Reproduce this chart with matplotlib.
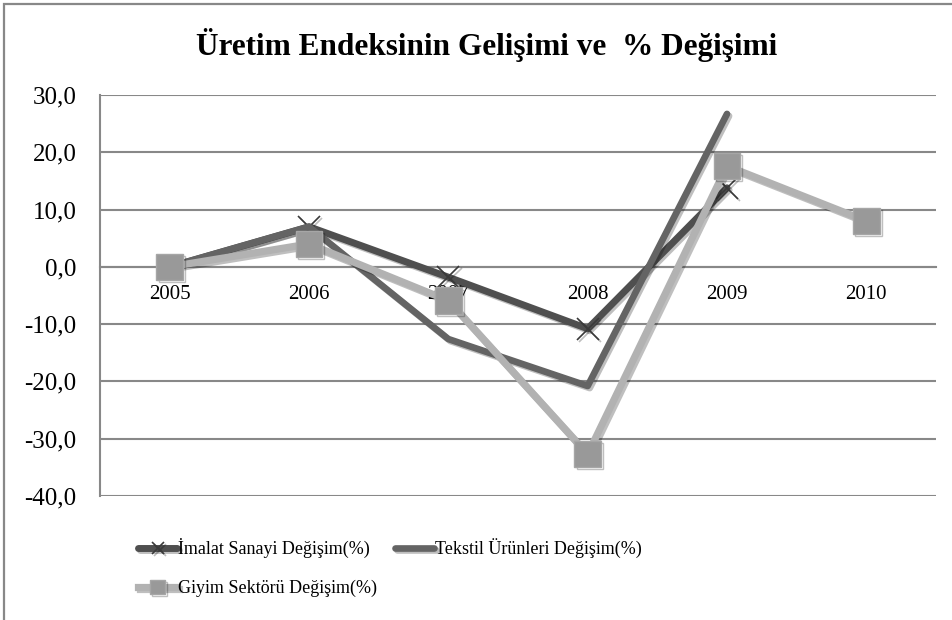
import numpy as np
import matplotlib
matplotlib.use("Agg")
import matplotlib.pyplot as plt
import matplotlib.patheffects as pe
from matplotlib.ticker import FuncFormatter
from matplotlib.patches import Rectangle

# data
years = ["2005", "2006", "2007", "2008", "2009", "2010"]
imalat = [0.0, 7.0, -1.8, -10.8, 13.8, np.nan]
tekstil = [0.0, 7.0, -12.6, -20.8, 26.7, np.nan]
giyim = [0.0, 4.0, -5.9, -32.7, 17.6, 8.0]
labels = ["İmalat Sanayi Değişim(%)", "Tekstil Ürünleri Değişim(%)", "Giyim Sektörü Değişim(%)"]
title = "Üretim Endeksinin Gelişimi ve  % Değişimi"

plt.rcParams["font.family"] = ["Liberation Serif", "DejaVu Serif"]

W, H = 953, 620
fig = plt.figure(figsize=(W/100, H/100), dpi=100)
fig.patch.set_facecolor("white")

# outer chart frame (right/bottom edges cropped in the original)
fig.patches.append(Rectangle((4/W, -0.2), 1.2, 1.2 - 4/H, transform=fig.transFigure,
                             fill=False, edgecolor="#888888", linewidth=1.6, zorder=0))

ax = fig.add_axes([100/W, 1 - 496/H, 836/W, 401/H])
x = np.arange(len(years))

shadow = [pe.SimpleLineShadow(offset=(1.5, -1.5), alpha=0.25), pe.Normal()]

l1, = ax.plot(x, imalat, color="#4f4f4f", lw=5.0, marker="x", markersize=16,
              markeredgewidth=1.2, markeredgecolor="#3a3a3a", solid_capstyle="round",
              solid_joinstyle="round", path_effects=shadow, zorder=3, label=labels[0])
l2, = ax.plot(x, tekstil, color="#646464", lw=4.8, solid_capstyle="round",
              solid_joinstyle="round", path_effects=shadow, zorder=4, label=labels[1])
l3, = ax.plot(x, giyim, color="#b2b2b2", lw=5.2, marker="s", markersize=19,
              markerfacecolor="#999999", markeredgecolor="#a6a6a6", markeredgewidth=1,
              solid_joinstyle="round", path_effects=shadow, zorder=5, label=labels[2])

ax.set_xlim(-0.5, 5.5)
ax.set_ylim(-40, 30)
ax.set_yticks(np.arange(-40, 31, 10))
ax.yaxis.set_major_formatter(FuncFormatter(lambda v, p: f"{v:.1f}".replace(".", ",")))
ax.grid(axis="y", color="#888888", linewidth=1.5, zorder=1)
ax.set_axisbelow(True)

ax.set_xticks(x)
ax.set_xticklabels(years)
ax.spines["bottom"].set_position(("data", 0))
ax.spines["bottom"].set_color("#888888")
ax.spines["bottom"].set_linewidth(1.5)
ax.spines["left"].set_color("#888888")
ax.spines["left"].set_linewidth(1.5)
ax.spines["top"].set_visible(False)
ax.spines["right"].set_visible(False)
ax.tick_params(axis="x", length=0, pad=13, labelsize=15)
ax.tick_params(axis="y", length=0, pad=17, labelsize=18)

fig.text(487/W, 1 - 45/H, title, ha="center", va="center", fontsize=22.5, fontweight="bold")

leg = fig.legend([l1, l3, l2], [labels[0], labels[2], labels[1]], ncol=2,
                 loc="upper left", bbox_to_anchor=(131/W, 1 - 531/H), frameon=False,
                 fontsize=13, handlelength=2.15, handletextpad=0.05, columnspacing=1.0,
                 labelspacing=1.2, borderaxespad=0, markerscale=0.55)

fig.savefig("out.png", dpi=100)
